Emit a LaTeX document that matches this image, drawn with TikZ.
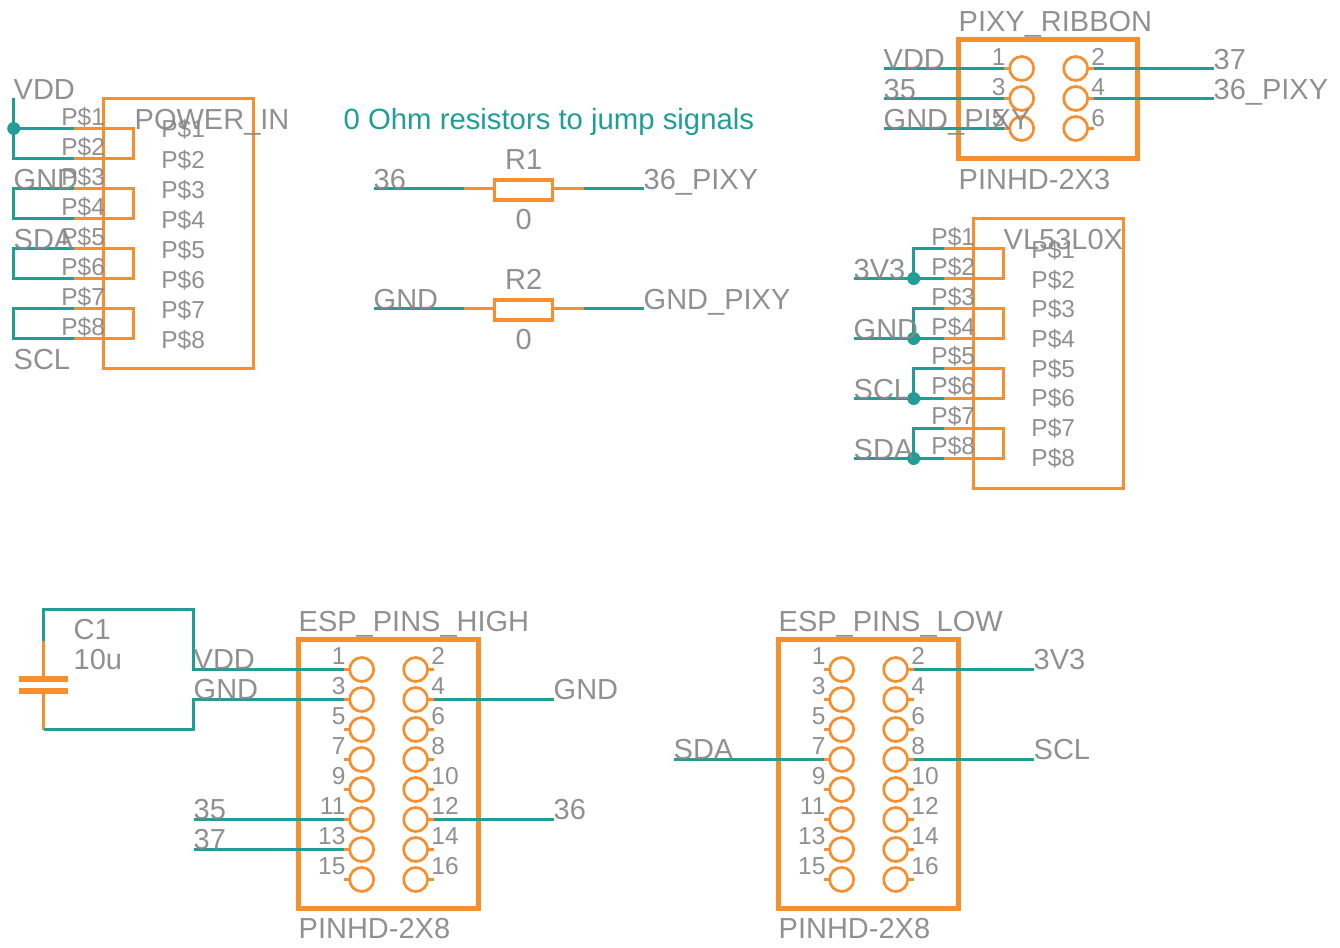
\documentclass[tikz,border=0pt]{standalone}
\usepackage{fontspec}
\setmainfont{Liberation Sans}
\newlength{\du}
\setlength{\du}{1pt}
\definecolor{symbolcolor}{rgb}{0.969, 0.561, 0.184}
\definecolor{wirecolor}{rgb}{0.122, 0.620, 0.596}
\definecolor{labelcolor}{rgb}{0.530, 0.530, 0.530}
\tikzset{
  partbox/.style={draw=symbolcolor,line width=2.6\du,inner sep=0pt,outer sep=0pt,anchor=north west},
  headerbox/.style={partbox,line width=5.2\du},
  resbox/.style={partbox,line width=3.4\du,minimum width=58\du,minimum height=20\du},
  padring/.style={circle,draw=symbolcolor,line width=2.7\du,inner sep=0pt,outer sep=0pt,minimum size=24\du},
  capplate/.style={fill=symbolcolor,inner sep=0pt,outer sep=0pt,minimum width=49\du,minimum height=6\du},
  pinstub/.style={draw=symbolcolor,line width=2.7\du,line join=miter},
  wirenet/.style={draw=wirecolor,line width=2.7\du,line join=miter},
  junction/.style={circle,fill=wirecolor,inner sep=0pt,outer sep=0pt,minimum size=13\du},
  basetext/.style={text=labelcolor,text opacity=0.92,inner sep=0pt,outer sep=0pt,anchor=base west},
  netlabel/.style={basetext,yshift=-0.7\du,font=\fontsize{29}{31}\selectfont},
  pinlabel/.style={basetext,xshift=-0.3\du,yshift=0.5\du,font=\fontsize{24.5}{26}\selectfont},
  numleft/.style={pinlabel,yshift=-1\du,anchor=base east},
  numright/.style={pinlabel,yshift=-1\du},
  noteline/.style={netlabel,text=wirecolor,text opacity=1,font=\fontsize{29.3}{31}\selectfont}
}
\begin{document}
\begin{tikzpicture}
\pgftransformxscale{1.000000}
\pgftransformyscale{-1.000000}
\useasboundingbox (0\du,0\du) rectangle (1340\du,947\du);
\pgftransformshift{\pgfpoint{-0.3\du}{0.5\du}}
% POWER_IN
\node[partbox,minimum width=150\du,minimum height=270\du] (bxpower) at (104\du,98\du) {};
\coordinate (pwtop) at (14\du,98\du);
\coordinate (pw1) at (14\du,128\du);
\coordinate (pw2) at (14\du,158\du);
\coordinate (pw3) at (14\du,188\du);
\coordinate (pw4) at (14\du,218\du);
\coordinate (pw5) at (14\du,248\du);
\coordinate (pw6) at (14\du,278\du);
\coordinate (pw7) at (14\du,308\du);
\coordinate (pw8) at (14\du,338\du);
\coordinate (ps1) at (74\du,128\du);
\coordinate (ps2) at (74\du,158\du);
\coordinate (ps3) at (74\du,188\du);
\coordinate (ps4) at (74\du,218\du);
\coordinate (ps5) at (74\du,248\du);
\coordinate (ps6) at (74\du,278\du);
\coordinate (ps7) at (74\du,308\du);
\coordinate (ps8) at (74\du,338\du);
\coordinate (pe1) at (134\du,128\du);
\coordinate (pe2) at (134\du,158\du);
\coordinate (pe3) at (134\du,188\du);
\coordinate (pe4) at (134\du,218\du);
\coordinate (pe5) at (134\du,248\du);
\coordinate (pe6) at (134\du,278\du);
\coordinate (pe7) at (134\du,308\du);
\coordinate (pe8) at (134\du,338\du);
\draw[pinstub] (ps1) -- (pe1) -- (pe2) -- (ps2);
\draw[pinstub] (ps3) -- (pe3) -- (pe4) -- (ps4);
\draw[pinstub] (ps5) -- (pe5) -- (pe6) -- (ps6);
\draw[pinstub] (ps7) -- (pe7) -- (pe8) -- (ps8);
% VL53L0X
\node[partbox,minimum width=150\du,minimum height=270\du] (bxsensor) at (974\du,218\du) {};
\coordinate (vs1) at (944\du,248\du);
\coordinate (vs2) at (944\du,278\du);
\coordinate (vs3) at (944\du,308\du);
\coordinate (vs4) at (944\du,338\du);
\coordinate (vs5) at (944\du,368\du);
\coordinate (vs6) at (944\du,398\du);
\coordinate (vs7) at (944\du,428\du);
\coordinate (vs8) at (944\du,458\du);
\coordinate (ve1) at (1004\du,248\du);
\coordinate (ve2) at (1004\du,278\du);
\coordinate (ve3) at (1004\du,308\du);
\coordinate (ve4) at (1004\du,338\du);
\coordinate (ve5) at (1004\du,368\du);
\coordinate (ve6) at (1004\du,398\du);
\coordinate (ve7) at (1004\du,428\du);
\coordinate (ve8) at (1004\du,458\du);
\coordinate (vb1) at (914\du,248\du);
\coordinate (vb3) at (914\du,308\du);
\coordinate (vb5) at (914\du,368\du);
\coordinate (vb7) at (914\du,428\du);
\coordinate (vn2) at (854\du,278\du);
\coordinate (vn4) at (854\du,338\du);
\coordinate (vn6) at (854\du,398\du);
\coordinate (vn8) at (854\du,458\du);
\draw[pinstub] (vs1) -- (ve1) -- (ve2) -- (vs2);
\draw[pinstub] (vs3) -- (ve3) -- (ve4) -- (vs4);
\draw[pinstub] (vs5) -- (ve5) -- (ve6) -- (vs6);
\draw[pinstub] (vs7) -- (ve7) -- (ve8) -- (vs8);
% R1 and R2
\node[resbox] (bxr1) at (494.5\du,179.5\du) {};
\node[resbox] (bxr2) at (494.5\du,299.5\du) {};
\coordinate (r1a) at (374\du,188\du);
\coordinate (r1b) at (464\du,188\du);
\coordinate (r1c) at (494\du,188\du);
\coordinate (r1d) at (554\du,188\du);
\coordinate (r1e) at (584\du,188\du);
\coordinate (r1f) at (644\du,188\du);
\coordinate (r2a) at (374\du,308\du);
\coordinate (r2b) at (464\du,308\du);
\coordinate (r2c) at (494\du,308\du);
\coordinate (r2d) at (554\du,308\du);
\coordinate (r2e) at (584\du,308\du);
\coordinate (r2f) at (644\du,308\du);
\draw[pinstub] (r1b) -- (r1c);
\draw[pinstub] (r1d) -- (r1e);
\draw[pinstub] (r2b) -- (r2c);
\draw[pinstub] (r2d) -- (r2e);
% C1
\node[capplate] (c1top) at (43.5\du,678\du) {};
\node[capplate] (c1bot) at (43.5\du,690\du) {};
\coordinate (c1a) at (44\du,640\du);
\coordinate (c1b) at (44\du,729\du);
\coordinate (c1c) at (44\du,609\du);
\coordinate (c1d) at (194\du,609\du);
\coordinate (c1e) at (194\du,669\du);
\coordinate (c1f) at (194\du,729\du);
\coordinate (c1g) at (194\du,699\du);
\draw[pinstub] (c1a) -- (c1a |- c1top.north);
\draw[pinstub] (c1b |- c1bot.south) -- (c1b);
% PIXY_RIBBON
\node[headerbox,minimum width=179\du,minimum height=119\du] (bxribbon) at (959\du,39\du) {};
\node[padring] (rb1) at (1022\du,68\du) {}; \draw[pinstub] (rb1.west) -- ++(-6\du,0\du) coordinate (rb1p);
\node[padring] (rb3) at (1022\du,98\du) {}; \draw[pinstub] (rb3.west) -- ++(-6\du,0\du) coordinate (rb3p);
\node[padring] (rb5) at (1022\du,128\du) {}; \draw[pinstub] (rb5.west) -- ++(-6\du,0\du) coordinate (rb5p);
\node[padring] (rb2) at (1076\du,68\du) {}; \draw[pinstub] (rb2.east) -- ++(6\du,0\du) coordinate (rb2p);
\node[padring] (rb4) at (1076\du,98\du) {}; \draw[pinstub] (rb4.east) -- ++(6\du,0\du) coordinate (rb4p);
\node[padring] (rb6) at (1076\du,128\du) {}; \draw[pinstub] (rb6.east) -- ++(6\du,0\du) coordinate (rb6p);
% ESP_PINS_HIGH
\node[headerbox,minimum width=180\du,minimum height=269\du] (bxhigh) at (299\du,639\du) {};
\node[padring] (hi1) at (362\du,669\du) {}; \draw[pinstub] (hi1.west) -- ++(-6\du,0\du) coordinate (hi1p);
\node[padring] (hi3) at (362\du,699\du) {}; \draw[pinstub] (hi3.west) -- ++(-6\du,0\du) coordinate (hi3p);
\node[padring] (hi5) at (362\du,729\du) {}; \draw[pinstub] (hi5.west) -- ++(-6\du,0\du) coordinate (hi5p);
\node[padring] (hi7) at (362\du,759\du) {}; \draw[pinstub] (hi7.west) -- ++(-6\du,0\du) coordinate (hi7p);
\node[padring] (hi9) at (362\du,789\du) {}; \draw[pinstub] (hi9.west) -- ++(-6\du,0\du) coordinate (hi9p);
\node[padring] (hi11) at (362\du,819\du) {}; \draw[pinstub] (hi11.west) -- ++(-6\du,0\du) coordinate (hi11p);
\node[padring] (hi13) at (362\du,849\du) {}; \draw[pinstub] (hi13.west) -- ++(-6\du,0\du) coordinate (hi13p);
\node[padring] (hi15) at (362\du,879\du) {}; \draw[pinstub] (hi15.west) -- ++(-6\du,0\du) coordinate (hi15p);
\node[padring] (hi2) at (416\du,669\du) {}; \draw[pinstub] (hi2.east) -- ++(6\du,0\du) coordinate (hi2p);
\node[padring] (hi4) at (416\du,699\du) {}; \draw[pinstub] (hi4.east) -- ++(6\du,0\du) coordinate (hi4p);
\node[padring] (hi6) at (416\du,729\du) {}; \draw[pinstub] (hi6.east) -- ++(6\du,0\du) coordinate (hi6p);
\node[padring] (hi8) at (416\du,759\du) {}; \draw[pinstub] (hi8.east) -- ++(6\du,0\du) coordinate (hi8p);
\node[padring] (hi10) at (416\du,789\du) {}; \draw[pinstub] (hi10.east) -- ++(6\du,0\du) coordinate (hi10p);
\node[padring] (hi12) at (416\du,819\du) {}; \draw[pinstub] (hi12.east) -- ++(6\du,0\du) coordinate (hi12p);
\node[padring] (hi14) at (416\du,849\du) {}; \draw[pinstub] (hi14.east) -- ++(6\du,0\du) coordinate (hi14p);
\node[padring] (hi16) at (416\du,879\du) {}; \draw[pinstub] (hi16.east) -- ++(6\du,0\du) coordinate (hi16p);
% ESP_PINS_LOW
\node[headerbox,minimum width=180\du,minimum height=269\du] (bxlow) at (779\du,639\du) {};
\node[padring] (lo1) at (842\du,669\du) {}; \draw[pinstub] (lo1.west) -- ++(-6\du,0\du) coordinate (lo1p);
\node[padring] (lo3) at (842\du,699\du) {}; \draw[pinstub] (lo3.west) -- ++(-6\du,0\du) coordinate (lo3p);
\node[padring] (lo5) at (842\du,729\du) {}; \draw[pinstub] (lo5.west) -- ++(-6\du,0\du) coordinate (lo5p);
\node[padring] (lo7) at (842\du,759\du) {}; \draw[pinstub] (lo7.west) -- ++(-6\du,0\du) coordinate (lo7p);
\node[padring] (lo9) at (842\du,789\du) {}; \draw[pinstub] (lo9.west) -- ++(-6\du,0\du) coordinate (lo9p);
\node[padring] (lo11) at (842\du,819\du) {}; \draw[pinstub] (lo11.west) -- ++(-6\du,0\du) coordinate (lo11p);
\node[padring] (lo13) at (842\du,849\du) {}; \draw[pinstub] (lo13.west) -- ++(-6\du,0\du) coordinate (lo13p);
\node[padring] (lo15) at (842\du,879\du) {}; \draw[pinstub] (lo15.west) -- ++(-6\du,0\du) coordinate (lo15p);
\node[padring] (lo2) at (896\du,669\du) {}; \draw[pinstub] (lo2.east) -- ++(6\du,0\du) coordinate (lo2p);
\node[padring] (lo4) at (896\du,699\du) {}; \draw[pinstub] (lo4.east) -- ++(6\du,0\du) coordinate (lo4p);
\node[padring] (lo6) at (896\du,729\du) {}; \draw[pinstub] (lo6.east) -- ++(6\du,0\du) coordinate (lo6p);
\node[padring] (lo8) at (896\du,759\du) {}; \draw[pinstub] (lo8.east) -- ++(6\du,0\du) coordinate (lo8p);
\node[padring] (lo10) at (896\du,789\du) {}; \draw[pinstub] (lo10.east) -- ++(6\du,0\du) coordinate (lo10p);
\node[padring] (lo12) at (896\du,819\du) {}; \draw[pinstub] (lo12.east) -- ++(6\du,0\du) coordinate (lo12p);
\node[padring] (lo14) at (896\du,849\du) {}; \draw[pinstub] (lo14.east) -- ++(6\du,0\du) coordinate (lo14p);
\node[padring] (lo16) at (896\du,879\du) {}; \draw[pinstub] (lo16.east) -- ++(6\du,0\du) coordinate (lo16p);
% free ends of the nets
\coordinate (rbvdd) at (884\du,68\du);
\coordinate (rb35) at (884\du,98\du);
\coordinate (rbgnd) at (884\du,128\du);
\coordinate (rb37) at (1214\du,68\du);
\coordinate (rb36) at (1214\du,98\du);
\coordinate (hi35) at (194\du,819\du);
\coordinate (hi37) at (194\du,849\du);
\coordinate (higndr) at (554\du,699\du);
\coordinate (hi36) at (554\du,819\du);
\coordinate (lo3v3) at (1034\du,669\du);
\coordinate (losda) at (674\du,759\du);
\coordinate (loscl) at (1034\du,759\du);
% nets
\draw[wirenet] (pwtop) -- (pw2) -- (ps2);
\draw[wirenet] (pw1) -- (ps1);
\draw[wirenet] (ps3) -- (pw3) -- (pw4) -- (ps4);
\draw[wirenet] (ps5) -- (pw5) -- (pw6) -- (ps6);
\draw[wirenet] (ps7) -- (pw7) -- (pw8) -- (ps8);
\node[junction] (jpw1) at (pw1) {};
\draw[wirenet] (vs1) -- (vb1) |- (vs2);
\draw[wirenet] (vs3) -- (vb3) |- (vs4);
\draw[wirenet] (vs5) -- (vb5) |- (vs6);
\draw[wirenet] (vs7) -- (vb7) |- (vs8);
\draw[wirenet] (vn2) -- (vs2);
\draw[wirenet] (vn4) -- (vs4);
\draw[wirenet] (vn6) -- (vs6);
\draw[wirenet] (vn8) -- (vs8);
\node[junction] (jv2) at (914\du,278\du) {};
\node[junction] (jv4) at (914\du,338\du) {};
\node[junction] (jv6) at (914\du,398\du) {};
\node[junction] (jv8) at (914\du,458\du) {};
\draw[wirenet] (r1a) -- (r1b);
\draw[wirenet] (r1e) -- (r1f);
\draw[wirenet] (r2a) -- (r2b);
\draw[wirenet] (r2e) -- (r2f);
\draw[wirenet] (c1a) -- (c1c) -- (c1d) -- (c1e) -- (hi1p);
\draw[wirenet] (c1b) -- (c1f) -- (c1g) -- (hi3p);
\draw[wirenet] (hi35) -- (hi11p);
\draw[wirenet] (hi37) -- (hi13p);
\draw[wirenet] (hi4p) -- (higndr);
\draw[wirenet] (hi12p) -- (hi36);
\draw[wirenet] (lo2p) -- (lo3v3);
\draw[wirenet] (losda) -- (lo7p);
\draw[wirenet] (lo8p) -- (loscl);
\draw[wirenet] (rbvdd) -- (rb1p);
\draw[wirenet] (rb35) -- (rb3p);
\draw[wirenet] (rbgnd) -- (rb5p);
\draw[wirenet] (rb2p) -- (rb37);
\draw[wirenet] (rb4p) -- (rb36);
% texts
\node[netlabel] (lblvdda) at (14\du,98\du) {VDD};
\node[netlabel] (lblgnda) at (14\du,188\du) {GND};
\node[netlabel] (lblsdaa) at (14\du,248\du) {SDA};
\node[netlabel] (lblscla) at (14\du,368\du) {SCL};
\node[netlabel] (lblpower) at (135\du,128\du) {POWER\_IN};
\node[pinlabel] (po1) at (62\du,125\du) {P\$1};
\node[pinlabel] (po2) at (62\du,155\du) {P\$2};
\node[pinlabel] (po3) at (62\du,185\du) {P\$3};
\node[pinlabel] (po4) at (62\du,215\du) {P\$4};
\node[pinlabel] (po5) at (62\du,245\du) {P\$5};
\node[pinlabel] (po6) at (62\du,275\du) {P\$6};
\node[pinlabel] (po7) at (62\du,305\du) {P\$7};
\node[pinlabel] (po8) at (62\du,335\du) {P\$8};
\node[pinlabel] (pi1) at (162\du,138\du) {P\$1};
\node[pinlabel] (pi2) at (162\du,168\du) {P\$2};
\node[pinlabel] (pi3) at (162\du,198\du) {P\$3};
\node[pinlabel] (pi4) at (162\du,228\du) {P\$4};
\node[pinlabel] (pi5) at (162\du,258\du) {P\$5};
\node[pinlabel] (pi6) at (162\du,288\du) {P\$6};
\node[pinlabel] (pi7) at (162\du,318\du) {P\$7};
\node[pinlabel] (pi8) at (162\du,348\du) {P\$8};
\node[netlabel] (lbl3v3a) at (854\du,278\du) {3V3};
\node[netlabel] (lblgndb) at (854\du,338\du) {GND};
\node[netlabel] (lblsclb) at (854\du,398\du) {SCL};
\node[netlabel] (lblsdab) at (854\du,458\du) {SDA};
\node[netlabel] (lblsensor) at (1004\du,248\du) {VL53L0X};
\node[pinlabel] (vo1) at (932\du,245\du) {P\$1};
\node[pinlabel] (vo2) at (932\du,275\du) {P\$2};
\node[pinlabel] (vo3) at (932\du,305\du) {P\$3};
\node[pinlabel] (vo4) at (932\du,335\du) {P\$4};
\node[pinlabel] (vo5) at (932\du,364.5\du) {P\$5};
\node[pinlabel] (vo6) at (932\du,394.5\du) {P\$6};
\node[pinlabel] (vo7) at (932\du,424\du) {P\$7};
\node[pinlabel] (vo8) at (932\du,454\du) {P\$8};
\node[pinlabel] (vi1) at (1032\du,258\du) {P\$1};
\node[pinlabel] (vi2) at (1032\du,288\du) {P\$2};
\node[pinlabel] (vi3) at (1032\du,317.5\du) {P\$3};
\node[pinlabel] (vi4) at (1032\du,347\du) {P\$4};
\node[pinlabel] (vi5) at (1032\du,377\du) {P\$5};
\node[pinlabel] (vi6) at (1032\du,406.5\du) {P\$6};
\node[pinlabel] (vi7) at (1032\du,436\du) {P\$7};
\node[pinlabel] (vi8) at (1032\du,466\du) {P\$8};
\node[noteline] (lblnote) at (344\du,128\du) {0 Ohm resistors to jump signals};
\node[netlabel,anchor=base] (lblr1) at (524\du,168\du) {R1};
\node[netlabel,anchor=base] (valr1) at (524\du,228\du) {0};
\node[netlabel] (lbl36a) at (374\du,188\du) {36};
\node[netlabel] (lbl36p) at (644\du,188\du) {36\_PIXY};
\node[netlabel,anchor=base] (lblr2) at (524\du,288\du) {R2};
\node[netlabel,anchor=base] (valr2) at (524\du,348\du) {0};
\node[netlabel] (lblgndc) at (374\du,308\du) {GND};
\node[netlabel] (lblgndp) at (644\du,308\du) {GND\_PIXY};
\node[netlabel] (lblc1) at (74\du,638\du) {C1};
\node[netlabel] (valc1) at (74\du,668\du) {10u};
\node[netlabel] (lblribbon) at (959\du,30\du) {PIXY\_RIBBON};
\node[netlabel] (lblrbval) at (959\du,188\du) {PINHD-2X3};
\node[netlabel] (lblrbvdd) at (884\du,68\du) {VDD};
\node[netlabel] (lblrb35) at (884\du,98\du) {35};
\node[netlabel] (lblrbgnd) at (884\du,128\du) {GND\_PIXY};
\node[netlabel] (lblrb37) at (1214\du,68\du) {37};
\node[netlabel] (lblrb36) at (1214\du,98\du) {36\_PIXY};
\node[numleft] (rbn1) at (1006\du,65\du) {1};
\node[numleft] (rbn3) at (1006\du,95\du) {3};
\node[numleft] (rbn5) at (1006\du,125\du) {5};
\node[numright] (rbn2) at (1092\du,65\du) {2};
\node[numright] (rbn4) at (1092\du,95\du) {4};
\node[numright] (rbn6) at (1092\du,125\du) {6};
\node[netlabel] (lblhigh) at (299\du,630\du) {ESP\_PINS\_HIGH};
\node[netlabel] (lblhival) at (299\du,937\du) {PINHD-2X8};
\node[netlabel] (lblhivdd) at (194\du,668\du) {VDD};
\node[netlabel] (lblhignd) at (194\du,698\du) {GND};
\node[netlabel] (lblhi35) at (194\du,818\du) {35};
\node[netlabel] (lblhi37) at (194\du,848\du) {37};
\node[netlabel] (lblhigndr) at (554\du,698\du) {GND};
\node[netlabel] (lblhi36) at (554\du,818\du) {36};
\node[numleft] (hin1) at (346\du,663\du) {1};
\node[numleft] (hin3) at (346\du,693\du) {3};
\node[numleft] (hin5) at (346\du,723\du) {5};
\node[numleft] (hin7) at (346\du,753\du) {7};
\node[numleft] (hin9) at (346\du,783\du) {9};
\node[numleft] (hin11) at (346\du,813\du) {11};
\node[numleft] (hin13) at (346\du,843\du) {13};
\node[numleft] (hin15) at (346\du,873\du) {15};
\node[numright] (hin2) at (432\du,663\du) {2};
\node[numright] (hin4) at (432\du,693\du) {4};
\node[numright] (hin6) at (432\du,723\du) {6};
\node[numright] (hin8) at (432\du,753\du) {8};
\node[numright] (hin10) at (432\du,783\du) {10};
\node[numright] (hin12) at (432\du,813\du) {12};
\node[numright] (hin14) at (432\du,843\du) {14};
\node[numright] (hin16) at (432\du,873\du) {16};
\node[netlabel] (lbllow) at (779\du,630\du) {ESP\_PINS\_LOW};
\node[netlabel] (lbllowval) at (779\du,937\du) {PINHD-2X8};
\node[netlabel] (lbllosda) at (674\du,758\du) {SDA};
\node[netlabel] (lblloscl) at (1034\du,758\du) {SCL};
\node[netlabel] (lbllo3v3) at (1034\du,668\du) {3V3};
\node[numleft] (lon1) at (826\du,663\du) {1};
\node[numleft] (lon3) at (826\du,693\du) {3};
\node[numleft] (lon5) at (826\du,723\du) {5};
\node[numleft] (lon7) at (826\du,753\du) {7};
\node[numleft] (lon9) at (826\du,783\du) {9};
\node[numleft] (lon11) at (826\du,813\du) {11};
\node[numleft] (lon13) at (826\du,843\du) {13};
\node[numleft] (lon15) at (826\du,873\du) {15};
\node[numright] (lon2) at (912\du,663\du) {2};
\node[numright] (lon4) at (912\du,693\du) {4};
\node[numright] (lon6) at (912\du,723\du) {6};
\node[numright] (lon8) at (912\du,753\du) {8};
\node[numright] (lon10) at (912\du,783\du) {10};
\node[numright] (lon12) at (912\du,813\du) {12};
\node[numright] (lon14) at (912\du,843\du) {14};
\node[numright] (lon16) at (912\du,873\du) {16};
\end{tikzpicture}
\end{document}
